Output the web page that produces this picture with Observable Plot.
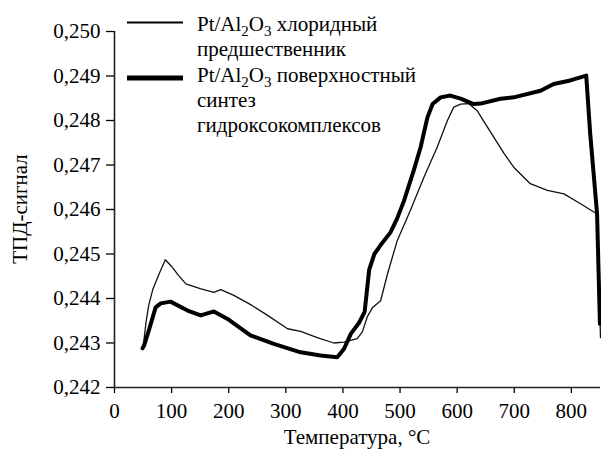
<!DOCTYPE html>
<html>
<head>
<meta charset="utf-8">
<script src="https://cdn.jsdelivr.net/npm/d3@7"></script>
<script src="https://cdn.jsdelivr.net/npm/@observablehq/plot@0.6"></script>
</head>
<body style="margin:0;background:#fff;">
<div id="wrap" style="position:relative;width:601px;height:452px;"></div>
<script>
// Temperature (°C) and TPD signal
const chlorideT = [49, 51, 55, 60, 67, 78, 89, 100, 112, 125, 150, 174, 186, 209, 240, 268, 303, 326, 355, 384, 402, 425, 434, 443, 452, 466, 478, 495, 518, 542, 565, 583, 594, 606, 620, 635, 658, 682, 699, 728, 758, 787, 816, 845, 851];
const chlorideV = [0.24290, 0.24300, 0.24345, 0.24385, 0.24420, 0.24455, 0.24487, 0.24472, 0.24452, 0.24433, 0.24422, 0.24414, 0.24420, 0.24407, 0.24385, 0.24362, 0.24332, 0.24326, 0.24312, 0.24300, 0.24302, 0.24310, 0.24325, 0.24360, 0.24380, 0.24395, 0.24455, 0.24530, 0.24598, 0.24673, 0.24740, 0.24800, 0.24830, 0.24837, 0.24838, 0.24822, 0.24775, 0.24726, 0.24695, 0.24658, 0.24643, 0.24635, 0.24613, 0.24590, 0.24312];

const surfaceT = [49, 52, 60, 72, 81, 98, 128, 151, 174, 198, 238, 279, 326, 361, 390, 402, 414, 428, 438, 446, 455, 466, 483, 495, 507, 524, 536, 548, 557, 571, 588, 606, 629, 641, 676, 699, 746, 769, 798, 826, 833, 845, 850];
const surfaceV = [0.24288, 0.24295, 0.24328, 0.24380, 0.24389, 0.24393, 0.24373, 0.24362, 0.24371, 0.24354, 0.24317, 0.24298, 0.24279, 0.24272, 0.24268, 0.24287, 0.24321, 0.24345, 0.24370, 0.24465, 0.24500, 0.24520, 0.24548, 0.24580, 0.24620, 0.24688, 0.24740, 0.24807, 0.24837, 0.24852, 0.24856, 0.24849, 0.24837, 0.24838, 0.24849, 0.24852, 0.24867, 0.24882, 0.24890, 0.24901, 0.24770, 0.24590, 0.24343];

const xTicks = [0, 100, 200, 300, 400, 500, 600, 700, 800];
const yTicks = [0.242, 0.243, 0.244, 0.245, 0.246, 0.247, 0.248, 0.249, 0.250];

const seriesNames = [["хлоридный", "предшественник"], ["поверхностный", "синтез", "гидроксокомплексов"]];
const xTitle = "Температура, °C";
const yTitle = "ТПД-сигнал";

const chloride = chlorideT.map((t, i) => ({t, v: chlorideV[i]}));
const surface = surfaceT.map((t, i) => ({t, v: surfaceV[i]}));

const fmt = d => d3.format(".3f")(d).replace(".", ",");

const chart = Plot.plot({
  width: 601,
  height: 452,
  marginTop: 31,
  marginBottom: 65,
  marginLeft: 114,
  marginRight: 1,
  style: {fontFamily: "Liberation Serif", fontSize: "21px", background: "white", color: "black", overflow: "visible"},
  x: {domain: [0, 851]},
  y: {domain: [0.242, 0.250]},
  marks: [
    Plot.axisX({ticks: xTicks, tickSize: 6, tickPadding: 10, label: null, stroke: "black", strokeWidth: 1.3, fontSize: 21}),
    Plot.axisY({ticks: yTicks, tickSize: 8, tickPadding: 6, label: null, tickFormat: fmt, stroke: "black", strokeWidth: 1.3, fontSize: 21}),
    Plot.ruleX([0], {stroke: "#222", strokeWidth: 1.6}),
    Plot.ruleY([0.242], {stroke: "#222", strokeWidth: 1.6}),
    Plot.line(chloride, {x: "t", y: "v", stroke: "#111", strokeWidth: 1.3}),
    Plot.line(surface, {x: "t", y: "v", stroke: "#000", strokeWidth: 4})
  ]
});

document.getElementById("wrap").appendChild(chart);

const svg = d3.select(chart);
const g = svg.append("g").attr("font-family", "Liberation Serif").attr("font-size", 21).attr("fill", "black").attr("text-anchor", "start");

// legend swatches
g.append("line").attr("x1", 127).attr("x2", 183).attr("y1", 22.5).attr("y2", 22.5).attr("stroke", "black").attr("stroke-width", 2);
g.append("line").attr("x1", 127).attr("x2", 183).attr("y1", 78).attr("y2", 78).attr("stroke", "black").attr("stroke-width", 5);

// legend text
const baselines = [[31, 56], [82, 107, 132]];
seriesNames.forEach((lines, si) => {
  lines.forEach((ln, li) => {
    const t = g.append("text").attr("x", 197).attr("y", baselines[si][li]).attr("text-anchor", "start");
    if (li === 0) {
      t.append("tspan").text("Pt/Al");
      t.append("tspan").attr("font-size", 15).attr("dy", 5).text("2");
      t.append("tspan").attr("dy", -5).text("O");
      t.append("tspan").attr("font-size", 15).attr("dy", 5).text("3");
      t.append("tspan").attr("dy", -5).text(" " + ln);
    } else {
      t.text(ln);
    }
  });
});

// axis titles
g.append("text").attr("x", 357).attr("y", 444).attr("text-anchor", "middle").text(xTitle);
g.append("text").attr("transform", "translate(27,209) rotate(-90)").attr("text-anchor", "middle").text(yTitle);
</script>
</body>
</html>
